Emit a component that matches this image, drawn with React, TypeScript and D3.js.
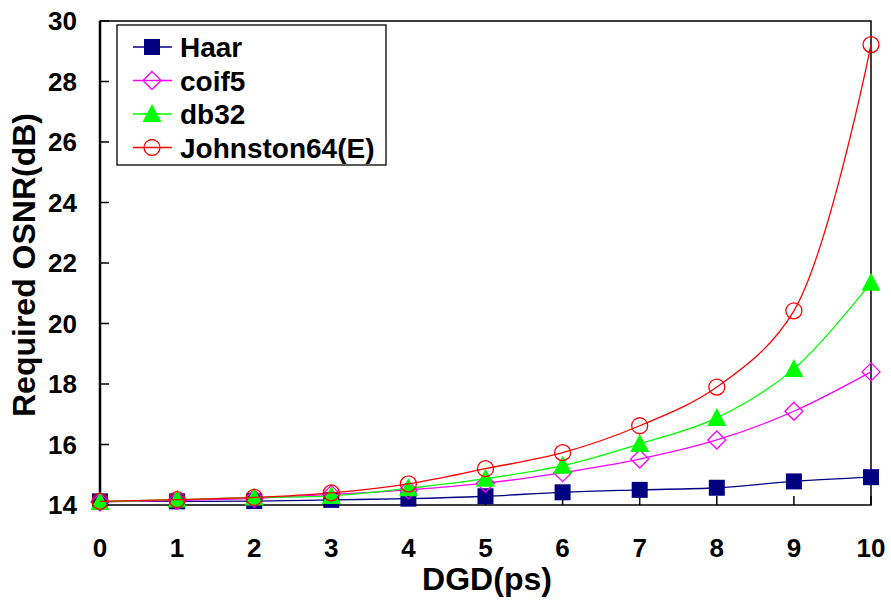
import React, { useRef, useEffect } from 'react';
import * as d3 from 'd3';

const dgd = [0, 1, 2, 3, 4, 5, 6, 7, 8, 9, 10];
const haar = [14.12, 14.12, 14.13, 14.17, 14.21, 14.29, 14.42, 14.5, 14.57, 14.78, 14.92];
const coif5 = [14.1, 14.15, 14.22, 14.35, 14.5, 14.72, 15.07, 15.52, 16.15, 17.1, 18.4];
const db32 = [14.1, 14.18, 14.25, 14.3, 14.55, 14.87, 15.3, 16.02, 16.88, 18.5, 21.35];
const johnston = [14.12, 14.18, 14.25, 14.4, 14.7, 15.2, 15.73, 16.62, 17.9, 20.42, 29.22];
const yTicks = [14, 16, 18, 20, 22, 24, 26, 28, 30];

const series = [
  { name: 'Haar', values: haar, color: '#000080', marker: 'square' },
  { name: 'coif5', values: coif5, color: '#FF00FF', marker: 'diamond' },
  { name: 'db32', values: db32, color: '#00FF00', marker: 'triangle' },
  { name: 'Johnston64(E)', values: johnston, color: '#FF0000', marker: 'circle' },
];

const App = () => {
  const svgRef = useRef<SVGSVGElement>(null);

  useEffect(() => {
    document.body.style.margin = '0';
    const width = 891;
    const height = 601;
    const margin = { left: 100, right: 20, top: 21, bottom: 96 };
    const font = '"Liberation Sans", Arial, sans-serif';

    const svg = d3.select(svgRef.current)
      .attr('width', width)
      .attr('height', height)
      .style('background', '#fff');
    svg.selectAll('*').remove();

    const x = d3.scaleLinear().domain([0, 10]).range([margin.left, width - margin.right]);
    const y = d3.scaleLinear().domain([14, 30]).range([height - margin.bottom, margin.top]);

    // frame
    svg.append('rect')
      .attr('x', x(0)).attr('y', y(30))
      .attr('width', x(10) - x(0)).attr('height', y(14) - y(30))
      .attr('fill', 'none').attr('stroke', '#000').attr('stroke-width', 1.5);
    svg.append('line')
      .attr('x1', x(0)).attr('x2', x(0)).attr('y1', y(30)).attr('y2', y(14))
      .attr('stroke', '#000').attr('stroke-width', 2.5);

    // y ticks (inward)
    svg.append('g').selectAll('line').data(yTicks).enter().append('line')
      .attr('x1', x(0)).attr('x2', x(0) + 9)
      .attr('y1', d => y(d)).attr('y2', d => y(d))
      .attr('stroke', '#000').attr('stroke-width', 1.5);
    svg.append('g').selectAll('text').data(yTicks).enter().append('text')
      .attr('x', 77).attr('y', d => y(d)).attr('dy', '0.36em')
      .attr('text-anchor', 'end')
      .style('font-family', font).style('font-weight', 'bold').style('font-size', '26px')
      .text(d => d);

    // x ticks (inward)
    svg.append('g').selectAll('line').data(dgd).enter().append('line')
      .attr('x1', d => x(d)).attr('x2', d => x(d))
      .attr('y1', y(14)).attr('y2', y(14) - 9)
      .attr('stroke', '#000').attr('stroke-width', 1.5);
    svg.append('g').selectAll('text').data(dgd).enter().append('text')
      .attr('x', d => x(d)).attr('y', 557)
      .attr('text-anchor', 'middle')
      .style('font-family', font).style('font-weight', 'bold').style('font-size', '26px')
      .text(d => d);

    // axis titles
    svg.append('text')
      .attr('x', 487).attr('y', 590)
      .attr('text-anchor', 'middle')
      .style('font-family', font).style('font-weight', 'bold').style('font-size', '32px')
      .text('DGD(ps)');
    svg.append('text')
      .attr('transform', 'translate(35, 265) rotate(-90)')
      .attr('text-anchor', 'middle')
      .style('font-family', font).style('font-weight', 'bold').style('font-size', '32px')
      .text('Required OSNR(dB)');

    const drawMarker = (g: any, type: string, color: string, cx: number, cy: number) => {
      if (type === 'square') {
        g.append('rect').attr('x', cx - 8).attr('y', cy - 8).attr('width', 16).attr('height', 16)
          .attr('fill', color);
      } else if (type === 'diamond') {
        g.append('path').attr('d', `M${cx},${cy - 9}L${cx + 9},${cy}L${cx},${cy + 9}L${cx - 9},${cy}Z`)
          .attr('fill', 'none').attr('stroke', color).attr('stroke-width', 1.3);
      } else if (type === 'triangle') {
        g.append('path').attr('d', `M${cx},${cy - 10}L${cx + 9.5},${cy + 8}L${cx - 9.5},${cy + 8}Z`)
          .attr('fill', color);
      } else {
        g.append('circle').attr('cx', cx).attr('cy', cy).attr('r', 8)
          .attr('fill', 'none').attr('stroke', color).attr('stroke-width', 1.3);
      }
    };

    const line = d3.line<number>()
      .x((_, i) => x(dgd[i]))
      .y(d => y(d))
      .curve(d3.curveCatmullRom.alpha(0.5));

    series.forEach(s => {
      const g = svg.append('g');
      g.append('path').datum(s.values).attr('d', line)
        .attr('fill', 'none').attr('stroke', s.color).attr('stroke-width', 1.3);
      s.values.forEach((v, i) => drawMarker(g, s.marker, s.color, x(dgd[i]), y(v)));
    });

    // legend
    const lg = svg.append('g');
    lg.append('rect').attr('x', 117).attr('y', 25).attr('width', 269).attr('height', 140)
      .attr('fill', '#fff').attr('stroke', '#000').attr('stroke-width', 1.3);
    series.forEach((s, i) => {
      const ly = 47 + i * 33.5;
      lg.append('line').attr('x1', 133).attr('x2', 172).attr('y1', ly).attr('y2', ly)
        .attr('stroke', s.color).attr('stroke-width', 1.3);
      drawMarker(lg, s.marker, s.color, 152, ly);
      lg.append('text').attr('x', 180).attr('y', ly).attr('dy', '0.36em')
        .style('font-family', font).style('font-weight', 'bold').style('font-size', '28px')
        .text(s.name);
    });
  }, []);

  return <svg ref={svgRef}></svg>;
};

export default App;
